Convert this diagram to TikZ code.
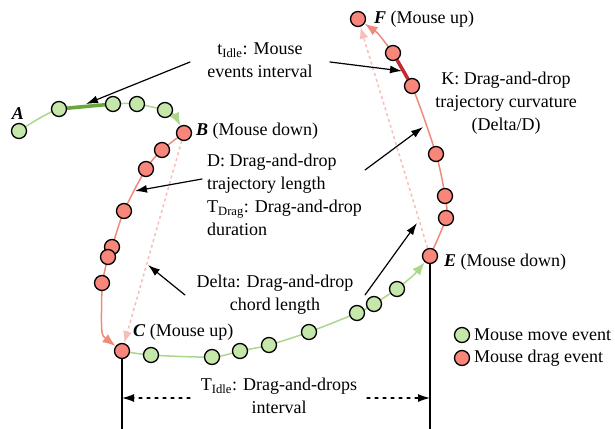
\documentclass[tikz,border=0pt]{standalone}
\usepackage{fontspec}
\setmainfont{Liberation Serif}
\usetikzlibrary{arrows.meta,backgrounds}
\definecolor{movefill}{RGB}{198,231,170}
\definecolor{moveline}{RGB}{172,215,138}
\definecolor{movedark}{RGB}{104,168,58}
\definecolor{dragfill}{RGB}{248,134,122}
\definecolor{dragline}{RGB}{240,138,124}
\definecolor{dragdark}{RGB}{196,42,52}
\definecolor{chordline}{RGB}{245,190,184}
\begin{document}
\begin{tikzpicture}[x=1pt,y=-1pt,font=\fontsize{18}{23}\selectfont,line join=round,line cap=round,
  move/.style={circle,draw=black,line width=1.3pt,fill=movefill,minimum size=15pt,inner sep=0pt},
  drag/.style={move,fill=dragfill},
  evlabel/.style={inner sep=0pt,anchor=west},
  note/.style={align=center,inner sep=0pt},
  callout/.style={-{Latex[length=12pt,width=8pt]},line width=1.2pt},
  trail/.style={line width=1.5pt,-{Latex[length=13pt,width=10pt]}},
  chord/.style={chordline,line width=1.5pt,dashed,-{Latex[length=12pt,width=9pt]}},
  span/.style={line width=1.2pt,dash pattern=on 3pt off 5pt,-{Latex[length=12pt,width=8pt]}}]
\useasboundingbox (0,0) rectangle (615,428);
% first drag: A -> B -> C
\node[move] (A) at (19,131) {};
\foreach \n/\x/\y in {g1/59/109,g2/113/104,g3/137/104,g4/165/110}
  \node[move] (\n) at (\x,\y) {};
\node[drag] (B) at (184,133) {};
\foreach \n/\x/\y in {r1/162/150,r2/146/169,r3/124/211,r4/112/247,r5/108/257,r6/102/283}
  \node[drag] (\n) at (\x,\y) {};
\node[drag] (C) at (122,351) {};
% second drag: C -> E -> F
\foreach \n/\x/\y in {h1/151/355,h2/212/357,h3/240/351,h4/269/345,h5/309/332,h6/357/313,h7/374/304,h8/397/289}
  \node[move] (\n) at (\x,\y) {};
\node[drag] (E) at (430,256) {};
\foreach \n/\x/\y in {s1/446/218,s2/445/196,s3/436/154,s4/412/86,s5/393/53}
  \node[drag] (\n) at (\x,\y) {};
\node[drag] (F) at (358,19) {};
\begin{scope}[on background layer]
\draw[trail,moveline] plot[smooth] coordinates {(A.center) (g1.center) (g2.center) (g3.center) (g4.center)} .. controls (175,115) .. (B);
\draw[trail,dragline] plot[smooth] coordinates {(B.center) (r1.center) (r2.center) (r3.center) (r4.center) (r5.center) (r6.center)} .. controls (101,335) .. (C);
\draw[trail,moveline] plot[smooth] coordinates {(C.center) (h1.center) (h2.center) (h3.center) (h4.center) (h5.center) (h6.center) (h7.center) (h8.center)} .. controls (414,275) .. (E);
\draw[trail,dragline] plot[smooth] coordinates {(E.center) (s1.center) (s2.center) (s3.center) (s4.center) (s5.center)} .. controls (378,33) .. (F);
\draw[chord] (B) -- (C);
\draw[chord] (E) -- (F);
\draw[movedark,line width=3.5pt] (g1) -- (g2);
\draw[dragdark,line width=3.5pt] (s5) -- (s4);
\end{scope}
% event labels
\node[inner sep=0pt] (labA) at (18,114) {\textbf{\textit{A}}};
\node[evlabel] (labB) at (196,131) {\textbf{\textit{B}} (Mouse down)};
\node[evlabel] (labC) at (133,332) {\textbf{\textit{C}} (Mouse up)};
\node[evlabel] (labE) at (444,262) {\textbf{\textit{E}} (Mouse down)};
\node[evlabel] (labF) at (374,19) {\textbf{\textit{F}} (Mouse up)};
% features
\node[note] (idle) at (260,60) {t\textsubscript{Idle}: Mouse\\events interval};
\node[note] (curv) at (506,103) {K: Drag-and-drop\\trajectory curvature\\(Delta/D)};
\node[note,align=left,anchor=west] (len) at (207,195) {D: Drag-and-drop\\trajectory length\\T\textsubscript{Drag}: Drag-and-drop\\duration};
\node[note] (delta) at (275,295) {Delta: Drag-and-drop\\chord length};
\node[note] (gap) at (279,396) {T\textsubscript{Idle}: Drag-and-drops\\interval};
\coordinate (idleL) at (190,62);  \coordinate (tipG) at (86,104);
\coordinate (idleR) at (330,62);  \coordinate (tipR) at (402,71);
\coordinate (lenR) at (365,170);  \coordinate (tipK) at (423,127);
\coordinate (lenL) at (202,179);  \coordinate (tipD) at (135,191);
\coordinate (deltaL) at (185,295); \coordinate (tipB) at (148,265);
\coordinate (deltaR) at (365,295); \coordinate (tipE) at (417,223);
\draw[callout] (idleL) -- (tipG);
\draw[callout] (idleR) -- (tipR);
\draw[callout] (lenR) -- (tipK);
\draw[callout] (lenL) -- (tipD);
\draw[callout] (deltaL) -- (tipB);
\draw[callout] (deltaR) -- (tipE);
% idle interval between drags
\draw[line width=1.2pt] (C.south) -- ++(0,70) coordinate (footC);
\draw[line width=1.2pt] (E.south) -- (E.south |- footC) coordinate (footE);
\coordinate (spanL) at (190,398); \coordinate (endL) at (122,398);
\coordinate (spanR) at (367,398); \coordinate (endR) at (430,398);
\draw[span] (spanL) -- (endL);
\draw[span] (spanR) -- (endR);
% legend
\node[move] (keymove) at (462,335) {};
\node[drag] (keydrag) at (462,358) {};
\node[evlabel] (keymovetxt) at (474,335) {Mouse move event};
\node[evlabel] (keydragtxt) at (474,358) {Mouse drag event};
\end{tikzpicture}
\end{document}
